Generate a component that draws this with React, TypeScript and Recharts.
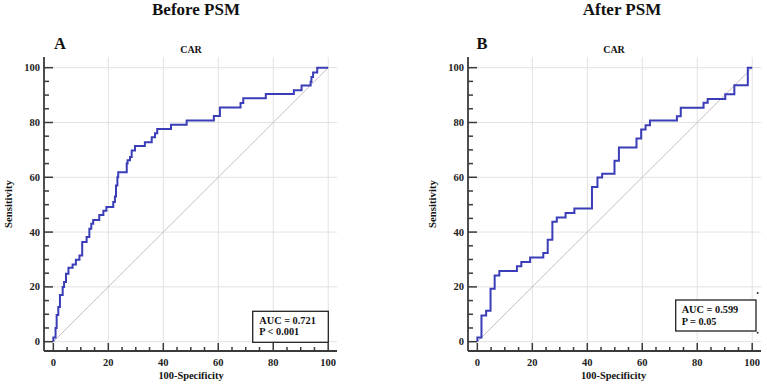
import React from 'react';
import { LineChart, Line, XAxis, YAxis, CartesianGrid, ReferenceLine } from 'recharts';

// ROC operating points (100-Specificity, Sensitivity)
const beforeFpr = [0, 0.8, 1.2, 1.8, 2.4, 3.4, 3.9, 4.6, 5.5, 7, 8.2, 9.5, 10.5, 12.1, 13.1, 13.8, 14.5, 16.7, 18.2, 19.3, 21.8, 22.4, 22.8, 23.3, 23.6, 26.7, 27, 27.9, 28.5, 29.7, 33.3, 35.8, 37, 37.8, 42.8, 48.5, 58.4, 60.6, 68.1, 69.1, 77.3, 87.5, 90.3, 93.6, 93.9, 94.5, 96, 100];
const beforeSens = [0, 1.5, 5, 9.7, 12.7, 17, 20, 21.8, 24.8, 27, 28.2, 29.9, 31.5, 36.4, 38.2, 41.2, 43, 44.4, 46.2, 47.8, 49.2, 51, 53, 57, 60, 61.8, 65, 66.2, 67.4, 69.8, 71.4, 72.8, 74.6, 76.1, 77.6, 79.2, 80.7, 82.4, 85.5, 87.1, 88.8, 90.4, 91.8, 93.5, 94.9, 96.6, 98.2, 100];

const afterFpr = [0, 1.5, 3.2, 4.8, 6.3, 8, 14.4, 16, 19.2, 24, 25.6, 27.3, 28.9, 32.1, 35.3, 41.7, 43.7, 45.4, 49.9, 51.5, 57.9, 59.6, 61.2, 62.8, 72.6, 74, 82.3, 83.8, 90.2, 93.5, 98.4, 100];
const afterSens = [0, 1.5, 9.6, 11.3, 19.3, 24.2, 25.8, 27.5, 29.1, 30.7, 32.4, 37.2, 43.8, 45.3, 47, 48.6, 56.5, 59.9, 61.3, 66, 70.9, 74.2, 77.4, 79, 80.7, 82.3, 85.4, 87.2, 88.6, 90.3, 93.6, 100];

const axisTicks = [0, 5, 10, 15, 20, 25, 30, 35, 40, 45, 50, 55, 60, 65, 70, 75, 80, 85, 90, 95, 100];
const gridValues = [0, 20, 40, 60, 80, 100];
const vGridValues = [20, 40, 60, 80, 100];

const panelTitles = ['Before PSM', 'After PSM'];
const panelLetters = ['A', 'B'];
const markerName = 'CAR';
const aucTexts = ['AUC = 0.721', 'AUC = 0.599'];
const pTexts = ['P < 0.001', 'P = 0.05'];

const FONT = '"Liberation Serif", "Times New Roman", serif';
const AXIS = '#3a3a3a';
const LINE = '#3a3db8';

const toRows = (fpr: number[], sens: number[]) => fpr.map((x, i) => ({ fpr: x, sens: sens[i] }));

const XTick = (props: any) => {
  const { x, y, payload } = props;
  const major = payload.value % 20 === 0;
  return (
    <g>
      <line x1={x} y1={y} x2={x} y2={y - (major ? 8 : 4)} stroke={AXIS} strokeWidth={1.5} />
      {major && (
        <text x={x} y={y + 15} textAnchor="middle" fontFamily={FONT} fontWeight="bold" fontSize={10.5} fill="#222">
          {payload.value}
        </text>
      )}
    </g>
  );
};

const YTick = (props: any) => {
  const { x, y, payload } = props;
  const major = payload.value % 20 === 0;
  return (
    <g>
      <line x1={x} y1={y} x2={x + (major ? 9 : 5)} y2={y} stroke={AXIS} strokeWidth={1.5} />
      {major && (
        <text x={x - 4} y={y + 3.6} textAnchor="end" fontFamily={FONT} fontWeight="bold" fontSize={10.5} fill="#222">
          {payload.value}
        </text>
      )}
    </g>
  );
};

const RocPanel = ({ fpr, sens, left, width, right }: { fpr: number[]; sens: number[]; left: number; width: number; right: number }) => (
  <div style={{ position: 'absolute', left, top: 0 }}>
    <LineChart width={width} height={386} data={toRows(fpr, sens)} margin={{ top: 57, right, bottom: 0, left: 0 }}>
      <CartesianGrid stroke="#e2e2e2" strokeWidth={1} horizontalValues={gridValues} verticalValues={vGridValues} />
      <XAxis
        dataKey="fpr"
        type="number"
        domain={[-3.4, 103.2]}
        ticks={axisTicks}
        interval={0}
        height={35}
        tickSize={0}
        tickMargin={0}
        tickLine={false}
        axisLine={{ stroke: AXIS, strokeWidth: 1.8 }}
        tick={<XTick />}
      />
      <YAxis
        type="number"
        domain={[-3.4, 103.9]}
        ticks={axisTicks}
        interval={0}
        width={44}
        tickSize={0}
        tickMargin={0}
        tickLine={false}
        axisLine={{ stroke: AXIS, strokeWidth: 1.8 }}
        tick={<YTick />}
      />
      <ReferenceLine segment={[{ x: 0, y: 0 }, { x: 100, y: 100 }]} stroke="#c4b4bc" strokeWidth={0.9} />
      <Line dataKey="sens" type="stepBefore" stroke={LINE} strokeWidth={2} dot={false} isAnimationActive={false} />
    </LineChart>
  </div>
);

export default function App() {
  const textProps = { fontFamily: FONT, fontWeight: 'bold' as const, fill: '#111' };
  return (
    <div style={{ position: 'absolute', left: 0, top: 0, width: 767, height: 386, background: '#fff', overflow: 'hidden' }}>
      <RocPanel fpr={beforeFpr} sens={beforeSens} left={0} width={345} right={8} />
      <RocPanel fpr={afterFpr} sens={afterSens} left={424} width={343} right={6} />
      <svg width={767} height={386} style={{ position: 'absolute', left: 0, top: 0, pointerEvents: 'none' }}>
        <text x={196} y={15} textAnchor="middle" fontSize={17} {...textProps}>{panelTitles[0]}</text>
        <text x={622} y={15} textAnchor="middle" fontSize={17} {...textProps}>{panelTitles[1]}</text>
        <text x={54} y={49} fontSize={16.5} {...textProps}>{panelLetters[0]}</text>
        <text x={476.5} y={49} fontSize={16.5} {...textProps}>{panelLetters[1]}</text>
        <text x={191} y={53} textAnchor="middle" fontSize={10} {...textProps}>{markerName}</text>
        <text x={614} y={53} textAnchor="middle" fontSize={10} {...textProps}>{markerName}</text>
        <text x={12} y={204} transform="rotate(-90 12 204)" textAnchor="middle" fontSize={10.8} {...textProps}>Sensitivity</text>
        <text x={435.5} y={204} transform="rotate(-90 435.5 204)" textAnchor="middle" fontSize={10.8} {...textProps}>Sensitivity</text>
        <text x={191} y={379} textAnchor="middle" fontSize={10.4} {...textProps}>100-Specificity</text>
        <text x={613.5} y={379} textAnchor="middle" fontSize={10.4} {...textProps}>100-Specificity</text>

        <rect x={252.7} y={311.3} width={75.6} height={31} fill="#fff" stroke="#222" strokeWidth={1.3} />
        <text x={259.3} y={324} fontSize={10.3} {...textProps}>{aucTexts[0]}</text>
        <text x={259.3} y={335.2} fontSize={10.3} {...textProps}>{pTexts[0]}</text>

        <rect x={675.7} y={300} width={80.3} height={31} fill="#fff" stroke="#222" strokeWidth={1.3} />
        <text x={681.7} y={313.3} fontSize={10.3} {...textProps}>{aucTexts[1]}</text>
        <text x={681.7} y={324.8} fontSize={10.3} {...textProps}>{pTexts[1]}</text>

        <circle cx={757.7} cy={293} r={1} fill="#333" />
        <circle cx={757.7} cy={332.7} r={1} fill="#333" />
      </svg>
    </div>
  );
}
